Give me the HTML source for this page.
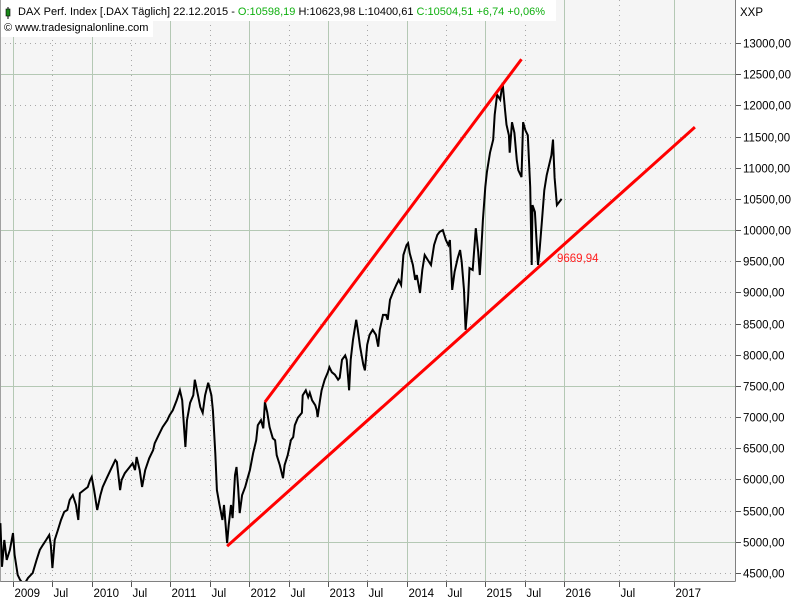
<!DOCTYPE html>
<html><head><meta charset="utf-8">
<style>
body{margin:0;background:#fff;}
svg{display:block;font-family:"Liberation Sans",sans-serif;}
</style></head>
<body>
<svg id="chart" width="800" height="600" viewBox="0 0 800 600" xmlns="http://www.w3.org/2000/svg">
<rect x="0" y="0" width="735" height="581" fill="#f5f5f5"/>
<g id="grid"></g>
<g id="header">
  <rect x="0" y="0" width="556" height="21" fill="#fff"/>
  <rect x="0" y="21" width="153" height="16" fill="#fff"/>
  <line x1="8" y1="7" x2="8" y2="19" stroke="#000" stroke-width="1"/>
  <rect x="6" y="9" width="4" height="7" fill="#1a8a1a" stroke="#000" stroke-width="0.6"/>
  <text x="18" y="15" font-size="11" fill="#000">DAX Perf. Index [.DAX  Täglich] 22.12.2015 - <tspan fill="#10b010">O:10598,19</tspan> H:10623,98 L:10400,61 <tspan fill="#10b010">C:10504,51 +6,74 +0,06%</tspan></text>
  <text x="4" y="31" font-size="11" fill="#000">© www.tradesignalonline.com</text>
</g>
<g id="axes"></g>
<g id="series"></g>
<text x="740" y="16" font-size="11.5" fill="#000">XXP</text>
</svg>
<script>
const yearTicks=[2009,2010,2011,2012,2013,2014,2015,2016,2017];
const julTicks=[2009.5,2010.5,2011.5,2012.5,2013.5,2014.5,2015.5,2016.5];
const yTicks=[4500,5000,5500,6000,6500,7000,7500,8000,8500,9000,9500,10000,10500,11000,11500,12000,12500,13000];
const dates=[2008.84,2008.86,2008.89,2008.92,2008.96,2009.00,2009.02,2009.06,2009.09,2009.14,2009.19,2009.25,2009.30,2009.34,2009.38,2009.42,2009.46,2009.48,2009.50,2009.51,2009.53,2009.57,2009.61,2009.65,2009.69,2009.72,2009.76,2009.80,2009.83,2009.85,2009.90,2009.95,2009.98,2010.00,2010.03,2010.07,2010.11,2010.14,2010.19,2010.25,2010.30,2010.32,2010.36,2010.38,2010.42,2010.47,2010.52,2010.55,2010.57,2010.61,2010.64,2010.68,2010.73,2010.78,2010.80,2010.85,2010.90,2010.96,2010.99,2011.03,2011.08,2011.12,2011.15,2011.19,2011.21,2011.25,2011.29,2011.31,2011.35,2011.38,2011.41,2011.44,2011.48,2011.52,2011.54,2011.57,2011.59,2011.62,2011.66,2011.68,2011.72,2011.74,2011.77,2011.79,2011.82,2011.84,2011.86,2011.88,2011.91,2011.95,2011.98,2012.01,2012.05,2012.09,2012.11,2012.15,2012.18,2012.20,2012.23,2012.26,2012.30,2012.33,2012.35,2012.39,2012.43,2012.45,2012.49,2012.53,2012.56,2012.58,2012.62,2012.67,2012.68,2012.72,2012.75,2012.77,2012.80,2012.84,2012.86,2012.87,2012.90,2012.92,2012.96,2013.00,2013.02,2013.05,2013.09,2013.13,2013.15,2013.18,2013.22,2013.24,2013.27,2013.29,2013.32,2013.36,2013.38,2013.41,2013.45,2013.47,2013.50,2013.53,2013.57,2013.61,2013.64,2013.66,2013.70,2013.74,2013.76,2013.79,2013.83,2013.87,2013.90,2013.93,2013.96,2014.00,2014.02,2014.04,2014.08,2014.11,2014.13,2014.17,2014.20,2014.23,2014.27,2014.31,2014.35,2014.39,2014.42,2014.46,2014.50,2014.53,2014.55,2014.58,2014.61,2014.65,2014.68,2014.70,2014.73,2014.75,2014.78,2014.80,2014.84,2014.88,2014.91,2014.93,2014.96,2014.97,2015.00,2015.02,2015.06,2015.10,2015.12,2015.15,2015.19,2015.22,2015.25,2015.27,2015.30,2015.31,2015.34,2015.37,2015.40,2015.42,2015.46,2015.48,2015.51,2015.54,2015.57,2015.59,2015.60,2015.63,2015.65,2015.67,2015.69,2015.72,2015.75,2015.78,2015.82,2015.84,2015.86,2015.88,2015.91,2015.97];
const closes=[5300,4600,5030,4710,4870,5140,4790,4470,4390,4310,4420,4500,4710,4870,4950,5030,5110,4950,4580,4710,5030,5190,5350,5480,5510,5670,5750,5590,5350,5780,5830,5880,5990,6040,5830,5510,5750,5880,6020,6180,6310,6280,5830,5990,6100,6180,6260,6150,6360,6150,5880,6150,6340,6470,6580,6710,6840,6950,7030,7110,7270,7430,7270,6520,6950,7230,7350,7600,7350,7160,7070,7350,7550,7350,7110,6420,5830,5620,5350,5590,4980,5270,5590,5380,6070,6200,5880,5460,5750,5880,6020,6150,6420,6630,6870,6950,6820,7240,7080,6840,6660,6630,6390,6230,6020,6230,6390,6630,6680,6870,6990,7070,7350,7430,7320,7390,7270,7190,7110,7000,7270,7430,7600,7720,7800,7720,7680,7600,7630,7920,7990,7920,7430,7920,8240,8560,8400,8130,7840,7750,8160,8320,8400,8320,8130,8400,8640,8640,8560,8880,9010,9120,9200,9120,9600,9760,9790,9630,9440,9200,9280,8990,9360,9600,9520,9440,9760,9920,9970,10000,9840,9760,9840,9040,9330,9550,9680,9490,9040,8400,8880,9390,9360,10030,9650,9280,9920,10160,10690,10930,11240,11450,11850,12170,12090,12360,11930,11690,11520,11240,11730,11560,11120,10960,10850,11730,11600,11520,10690,9440,10400,10290,9840,9440,9680,10160,10640,10880,11090,11200,11450,10840,10400,10500];
const upperDates=[2012.20,2015.46];
const upperValues=[7240,12740];
const lowerDates=[2011.72,2017.19];
const lowerValues=[4930,11650];
const supportLabel=["9669,94"];

const NS="http://www.w3.org/2000/svg";
const xDom=[2009,2016,2017], xRng=[13,564,674];
function xs(t){
  if(t<=xDom[1]) return xRng[0]+(t-xDom[0])*(xRng[1]-xRng[0])/(xDom[1]-xDom[0]);
  return xRng[1]+(t-xDom[1])*(xRng[2]-xRng[1])/(xDom[2]-xDom[1]);
}
function ys(v){return 43+(13000-v)*530/8500;}
function mk(tag,attrs,parent){const e=document.createElementNS(NS,tag);for(const k in attrs)e.setAttribute(k,attrs[k]);parent.appendChild(e);return e;}
const grid=document.getElementById('grid'),axes=document.getElementById('axes'),series=document.getElementById('series');

yTicks.forEach(v=>{
  const y=Math.round(ys(v))+0.5, major=v%2500===0;
  const l=mk('line',{x1:0,x2:735,y1:y,y2:y,stroke:major?'#b4c8b4':'#a8a8a8','stroke-width':1,'stroke-dasharray':major?'none':'1,4'},grid);
  
  
  const t=mk('line',{x1:736,x2:741,y1:y,y2:y,stroke:'#555','stroke-width':1},axes);
  
  
  const tx=mk('text',{x:743,y:y+4,'font-size':11.5,fill:'#000'},axes);
  tx.textContent=v+',00';
  
  
});
yearTicks.forEach(yr=>{
  const x=Math.round(xs(yr))+0.5;
  const l=mk('line',{x1:x,x2:x,y1:0,y2:581,stroke:'#b4c8b4','stroke-width':1},grid);
  
  
  const t=mk('line',{x1:x,x2:x,y1:581,y2:587,stroke:'#555'},axes);
  
  
  const tx=mk('text',{x:x+1,y:597,'font-size':11.5,fill:'#000'},axes);
  tx.textContent=yr;
  
  
});
julTicks.forEach(yr=>{
  const x=Math.round(xs(yr))+0.5;
  const l=mk('line',{x1:x,x2:x,y1:0,y2:581,stroke:'#a8a8a8','stroke-dasharray':'1,4'},grid);
  
  
  const t=mk('line',{x1:x,x2:x,y1:581,y2:587,stroke:'#555'},axes);
  
  
  const tx=mk('text',{x:x+1,y:597,'font-size':11.5,fill:'#000'},axes);
  tx.textContent='Jul';
  
  
});
const bx=mk('line',{x1:0,x2:735.5,y1:581.5,y2:581.5,stroke:'#808080'},axes);


const by=mk('line',{x1:735.5,x2:735.5,y1:0,y2:581.5,stroke:'#808080'},axes);


const lb=mk('line',{x1:0.5,x2:0.5,y1:0,y2:581.5,stroke:'#a0a0a0'},axes);



const defs=mk('defs',{},series);
const cp=mk('clipPath',{id:'pc'},defs);
mk('rect',{x:0,y:0,width:735,height:581},cp);
let d='';
dates.forEach((t,i)=>{d+=(i?'L':'M')+xs(t).toFixed(1)+','+ys(closes[i]).toFixed(1);});
const pl=mk('path',{d:d,fill:'none',stroke:'#000','stroke-width':2,'stroke-linejoin':'miter','clip-path':'url(#pc)'},series);



const up=mk('line',{x1:xs(upperDates[0]),y1:ys(upperValues[0]),x2:xs(upperDates[1]),y2:ys(upperValues[1]),stroke:'#ff0000','stroke-width':3},series);


const lo=mk('line',{x1:xs(lowerDates[0]),y1:ys(lowerValues[0]),x2:xs(lowerDates[1]),y2:ys(lowerValues[1]),stroke:'#ff0000','stroke-width':3},series);


const sl=mk('text',{x:557,y:262,'font-size':11.5,fill:'#ff2020'},series);
sl.textContent=supportLabel[0];


</script>
</body></html>
